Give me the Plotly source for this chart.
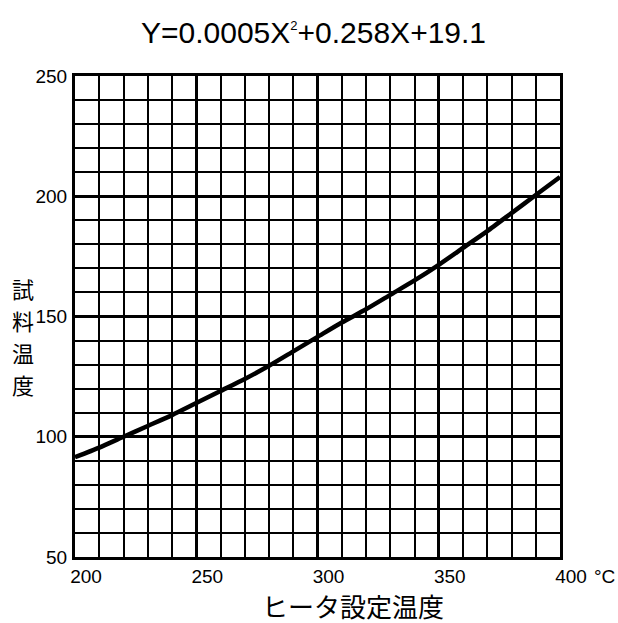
import plotly.graph_objects as go

# Data
heater_temp = [200, 210, 220, 230, 240, 250, 260, 270, 280, 290, 300,
               310, 320, 330, 340, 350, 360, 370, 380, 390, 400]
sample_temp = [91.5, 95.5, 100, 104.5, 109, 114, 119, 124, 129.5, 135.5, 141.5,
               147.5, 153, 159, 165, 171.5, 178.5, 185.5, 193, 200.5, 208]

x_tick_vals = [200, 250, 300, 350, 400]
x_tick_text = ["200", "250", "300", "350", "400"]
y_tick_vals = [50, 100, 150, 200, 250]
y_tick_text = ["50", "100", "150", "200", "250"]

title_text = "Y=0.0005X<sup><span style='font-size:13px'>2</span></sup>+0.258X+19.1"
x_title = "ヒータ設定温度"
y_title_chars = ["試", "料", "温", "度"]
unit_text = "°C"

W, H = 618, 623
ML, MR, MT, MB = 75, 58, 76, 66
PH = H - MT - MB
PW = W - ML - MR


def py(p):
    """pixel y (from top) -> paper y"""
    return (H - MB - p) / PH


def px(p):
    return (p - ML) / PW


LAT = "Liberation Sans, Arial, sans-serif"
CJK = "Noto Sans CJK JP, sans-serif"

fig = go.Figure()
fig.add_trace(go.Scatter(
    x=heater_temp, y=sample_temp, mode="lines",
    line=dict(color="black", width=4.5, shape="spline", smoothing=0.6),
    hoverinfo="skip", showlegend=False,
))

axis_common = dict(
    showgrid=True, gridcolor="black", gridwidth=3,
    showline=True, linecolor="black", linewidth=3, mirror=True,
    zeroline=False, ticks="",
    tickfont=dict(family=LAT, size=19, color="black"),
)

fig.update_xaxes(
    range=[200, 400], tickvals=x_tick_vals, ticktext=x_tick_text,
    minor=dict(dtick=10, showgrid=True, gridcolor="black", gridwidth=2),
    ticklabelshift=11, ticklabelstandoff=0,
    **axis_common,
)
fig.update_yaxes(
    range=[50, 250], tickvals=y_tick_vals, ticktext=y_tick_text,
    minor=dict(dtick=10, showgrid=True, gridcolor="black", gridwidth=2),
    ticklabelstandoff=1,
    **axis_common,
)

annotations = [
    dict(text=title_text, x=px(313), y=py(33), xref="paper", yref="paper",
         showarrow=False, xanchor="center", yanchor="middle",
         font=dict(family=LAT, size=30, color="black")),
    dict(text=x_title, x=px(353), y=py(605), xref="paper", yref="paper",
         showarrow=False, xanchor="center", yanchor="middle",
         font=dict(family=CJK, size=26, color="black")),
    dict(text=unit_text, x=px(604), y=py(576), xref="paper", yref="paper",
         showarrow=False, xanchor="center", yanchor="middle",
         font=dict(family=LAT, size=19, color="black")),
]
for ch, yp in zip(y_title_chars, [288, 320, 352, 384]):
    annotations.append(dict(
        text=ch, x=px(23), y=py(yp), xref="paper", yref="paper",
        showarrow=False, xanchor="center", yanchor="middle",
        font=dict(family=CJK, size=22, color="black")))

fig.update_layout(
    width=W, height=H,
    margin=dict(l=ML, r=MR, t=MT, b=MB),
    paper_bgcolor="white", plot_bgcolor="white",
    annotations=annotations,
    showlegend=False,
)

fig.write_html(
    "out.html",
    config={"displayModeBar": False},
    post_script="document.body.style.margin='0';document.body.style.overflow='hidden';",
)
